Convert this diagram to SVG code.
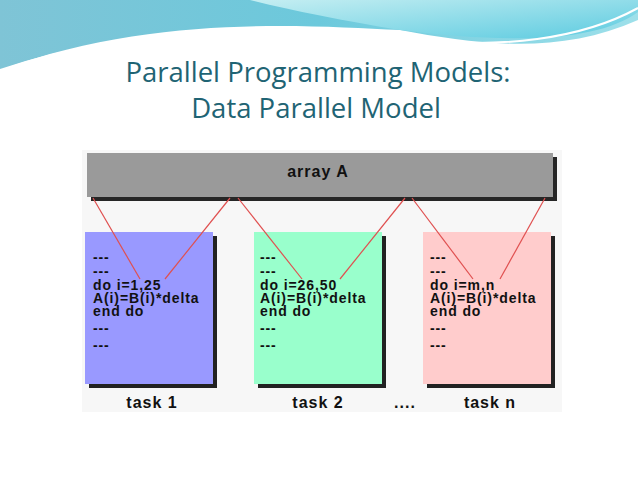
<svg xmlns="http://www.w3.org/2000/svg" width="638" height="479" viewBox="0 0 638 479">
<defs>
<linearGradient id="wv" x1="0" y1="0" x2="1" y2="0"><stop offset="0" stop-color="#7fc4d6"/><stop offset="0.5" stop-color="#6cc9dc"/><stop offset="1" stop-color="#9ee0ea"/></linearGradient>
<linearGradient id="wv2" x1="0" y1="0" x2="1" y2="1"><stop offset="0" stop-color="#c5eef2"/><stop offset="1" stop-color="#5ccbe0"/></linearGradient>
<style>
.code{font-family:"Liberation Sans",Arial,sans-serif;font-weight:bold;font-size:14px;letter-spacing:0.9px;fill:#111}
.lbl{font-family:"Liberation Sans",Arial,sans-serif;font-weight:bold;font-size:16px;letter-spacing:1px;fill:#111;text-anchor:middle}
.ln{stroke:#e05050;stroke-width:1.2;fill:none}
.ttl{font-family:"Open Sans","Liberation Sans",sans-serif;font-size:27.5px;fill:#1f6474;text-anchor:middle}
</style>
</defs>
<rect width="638" height="479" fill="#fff"/>
<path d="M0 0H638V20C560 55 480 45 400 30C300 25 150 15 0 70Z" fill="url(#wv)"/>
<path d="M250 0H638V12C600 40 520 45 400 30C340 20 290 10 250 0Z" fill="url(#wv2)"/>
<path d="M0 70C150 20 300 28 420 40C500 48 580 40 638 8" stroke="#fff" stroke-width="2" fill="none"/>
<text class="ttl" x="318" y="82">Parallel Programming Models:</text>
<text class="ttl" x="316" y="118">Data Parallel Model</text>
<rect x="82" y="150" width="480" height="262" fill="#f7f7f7"/>
<g id="arrayA"><rect x="91" y="157" width="466" height="44" fill="#262626"/><rect x="87" y="153" width="466" height="44" fill="#9a9a9a"/><text class="lbl" x="318" y="177">array A</text></g>
<g id="task1"><rect x="89" y="236" width="128" height="152" fill="#222"/><rect x="85" y="232" width="128" height="152" fill="#9999ff"/>
<text class="code" x="93" y="262">---</text><text class="code" x="93" y="276">---</text><text class="code" x="93" y="290">do i=1,25</text><text class="code" x="93" y="303">A(i)=B(i)*delta</text><text class="code" x="93" y="316">end do</text><text class="code" x="93" y="333">---</text><text class="code" x="93" y="350">---</text>
<text class="lbl" x="152" y="408">task 1</text></g>
<g id="task2"><rect x="258" y="236" width="128" height="152" fill="#222"/><rect x="254" y="232" width="128" height="152" fill="#99ffcc"/>
<text class="code" x="260" y="262">---</text><text class="code" x="260" y="276">---</text><text class="code" x="260" y="290">do i=26,50</text><text class="code" x="260" y="303">A(i)=B(i)*delta</text><text class="code" x="260" y="316">end do</text><text class="code" x="260" y="333">---</text><text class="code" x="260" y="350">---</text>
<text class="lbl" x="318" y="408">task 2</text></g>
<text class="lbl" x="405" y="408">....</text>
<g id="taskn"><rect x="427" y="236" width="128" height="152" fill="#222"/><rect x="423" y="232" width="128" height="152" fill="#ffcccc"/>
<text class="code" x="430" y="262">---</text><text class="code" x="430" y="276">---</text><text class="code" x="430" y="290">do i=m,n</text><text class="code" x="430" y="303">A(i)=B(i)*delta</text><text class="code" x="430" y="316">end do</text><text class="code" x="430" y="333">---</text><text class="code" x="430" y="350">---</text>
<text class="lbl" x="490" y="408">task n</text></g>
<g id="connectors">
<line class="ln" x1="93" y1="198" x2="140" y2="279"/><line class="ln" x1="230" y1="198" x2="165" y2="279"/>
<line class="ln" x1="238" y1="198" x2="302" y2="279"/><line class="ln" x1="405" y1="198" x2="340" y2="279"/>
<line class="ln" x1="412" y1="198" x2="473" y2="279"/><line class="ln" x1="545" y1="198" x2="500" y2="279"/>
</g>
</svg>
